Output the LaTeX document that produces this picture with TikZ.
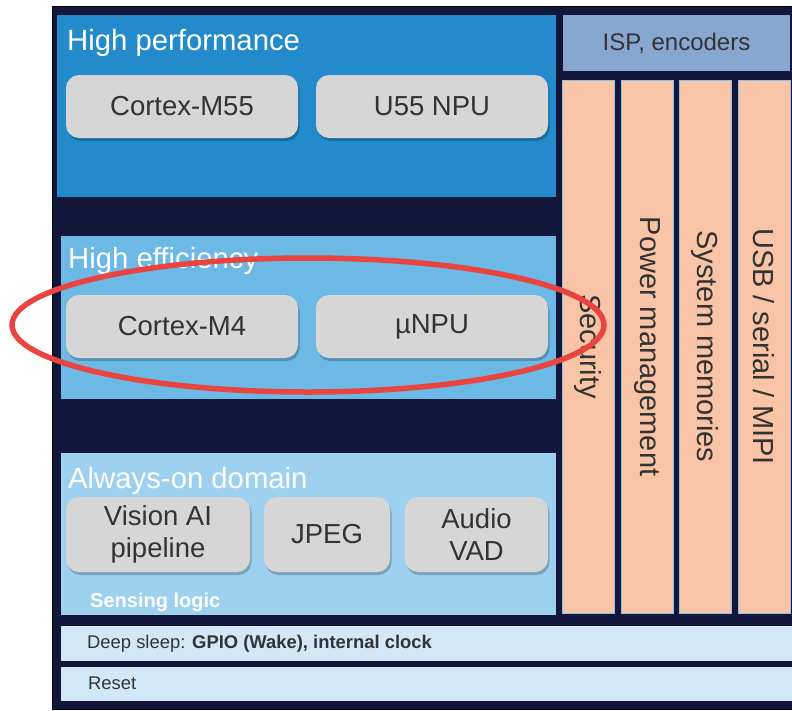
\documentclass[tikz,border=0pt]{standalone}
\usepackage{fontspec}
\setmainfont{Liberation Sans}
\usepackage{tikz}
\usetikzlibrary{shadows}
\definecolor{navy}{RGB}{18,22,59}
\definecolor{perfblue}{RGB}{35,139,203}
\definecolor{effblue}{RGB}{108,185,230}
\definecolor{aonblue}{RGB}{157,209,239}
\definecolor{sleepblue}{RGB}{210,232,247}
\definecolor{ispblue}{RGB}{135,167,209}
\definecolor{peach}{RGB}{248,196,165}
\definecolor{coregray}{RGB}{214,214,214}
\definecolor{textgray}{RGB}{51,51,51}
\definecolor{ringred}{RGB}{233,68,63}
\definecolor{colline}{RGB}{140,195,232}
\tikzset{
  areabox/.style={anchor=north west, inner sep=0pt, outer sep=0pt},
  corebox/.style={areabox, rounded corners=13pt, fill=coregray, text=textgray, align=center,
    font=\fontsize{27.5}{32.5}\selectfont,
    drop shadow={shadow xshift=1.5pt, shadow yshift=-3pt, opacity=0.22, fill=black}},
  areatitle/.style={anchor=base west, inner sep=0pt, text=white, font=\fontsize{29.3}{34}\selectfont},
  colbox/.style={areabox, fill=peach, draw=colline, line width=0.8pt,
    minimum width=52pt, minimum height=533pt},
  coltext/.style={rotate=-90, text=textgray, font=\fontsize{29}{34}\selectfont},
  barbox/.style={areabox, fill=sleepblue, minimum width=733pt},
  bartext/.style={anchor=base west, inner sep=0pt, text=textgray, font=\fontsize{18.4}{22}\selectfont},
  ring/.style={draw=ringred, line width=5.5pt}
}
\begin{document}
\begin{tikzpicture}[x=1pt, y=-1pt]
\useasboundingbox (0,0) rectangle (792,710);
\node[areabox, fill=navy, draw=black, line width=1pt, minimum width=745pt, minimum height=703pt] (frame) at (52,6) {};

% high performance
\node[areabox, fill=perfblue, minimum width=499pt, minimum height=182pt] (perf) at (57,15) {};
\node[areatitle] (perftitle) at (67,50) {High performance};
\node[corebox, minimum width=232pt, minimum height=63pt] (m55) at (66,75) {Cortex-M55};
\node[corebox, minimum width=232pt, minimum height=63pt] (u55) at (316,75) {U55 NPU};

% high efficiency
\node[areabox, fill=effblue, minimum width=495pt, minimum height=163pt] (eff) at (61,236) {};
\node[areatitle] (efftitle) at (68,268) {High efficiency};
\node[corebox, minimum width=232pt, minimum height=63pt] (m4) at (66,295) {Cortex-M4};
\node[corebox, minimum width=232pt, minimum height=63pt] (unpu) at (316,295) {µNPU};

% always-on
\node[areabox, fill=aonblue, minimum width=495pt, minimum height=162pt] (aon) at (61,453) {};
\node[areatitle] (aontitle) at (68,488) {Always-on domain};
\node[corebox, minimum width=184pt, minimum height=75pt] (vision) at (66,497) {Vision AI\\pipeline};
\node[corebox, minimum width=126pt, minimum height=75pt] (jpeg) at (264,497) {JPEG};
\node[corebox, minimum width=143pt, minimum height=75pt] (vad) at (405,497) {Audio\\VAD};
\node[anchor=base west, inner sep=0pt, text=white, font=\fontsize{20}{24}\selectfont\bfseries] (sensing) at (90,607) {Sensing logic};

% right side
\node[areabox, fill=ispblue, minimum width=227pt, minimum height=56pt, text=textgray,
  font=\fontsize{24}{28}\selectfont] (isp) at (563,15) {ISP, encoders};
\node[colbox] (sec) at (562,80) {};
\node[colbox] (pwr) at (621,80) {};
\node[colbox] (mem) at (679,80) {};
\node[colbox] (usb) at (738,80) {};
\node[coltext] (sectext) at (sec.center) {Security};
\node[coltext] (pwrtext) at (pwr.center) {Power management};
\node[coltext] (memtext) at (mem.center) {System memories};
\node[coltext] (usbtext) at (usb.center) {USB / serial / MIPI};

% bottom bars
\node[barbox, minimum height=35pt] (sleep) at (61,626) {};
\node[barbox, minimum height=34pt] (reset) at (61,667) {};
\node[bartext] (sleeptext) at (87,648) {Deep sleep: \textbf{GPIO (Wake), internal clock}};
\node[bartext] (resettext) at (88,689) {Reset};

% highlight
\draw[ring] (308,325) ellipse [x radius=296, y radius=67];
\end{tikzpicture}
\end{document}
